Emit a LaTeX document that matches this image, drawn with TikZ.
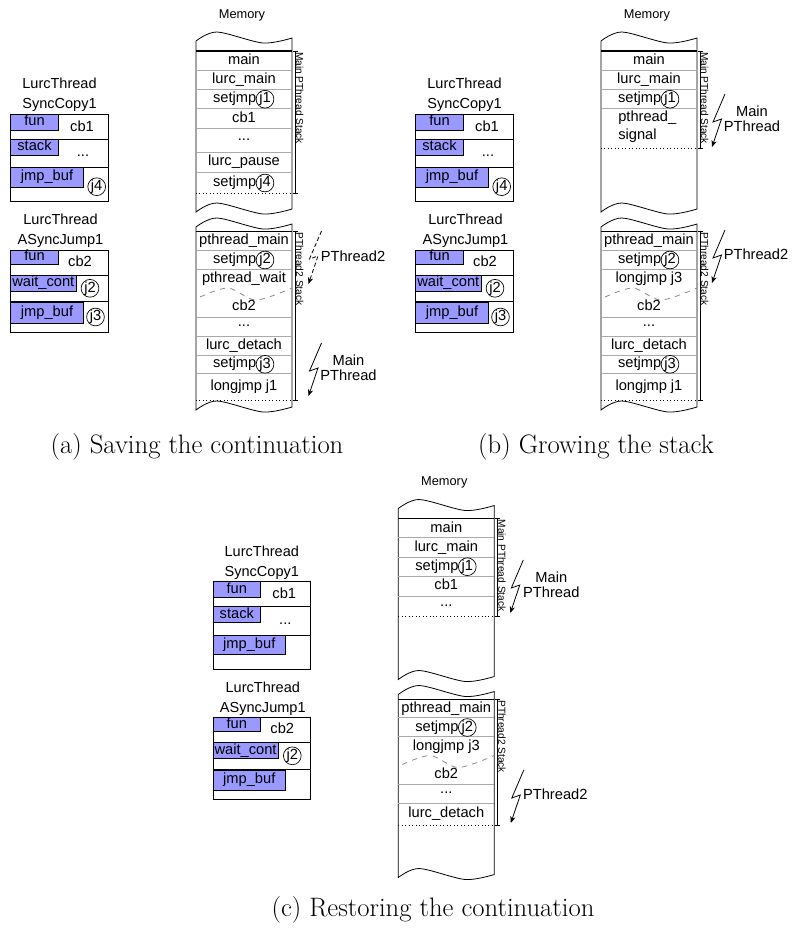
\documentclass[tikz,border=0pt]{standalone}
\usepackage{fontspec}
\setsansfont{Liberation Sans}
\usetikzlibrary{arrows.meta}
\definecolor{fieldblue}{RGB}{153,153,255}
\definecolor{rowgray}{RGB}{170,170,170}
\definecolor{wavegray}{RGB}{140,140,140}

\tikzset{
  txt/.style={font=\sffamily\fontsize{11}{12.5}\selectfont, inner sep=0pt, text height=8pt, text depth=2.5pt},
  ttl/.style={font=\sffamily\fontsize{10.9}{15}\selectfont, inner sep=0pt, align=center},
  memttl/.style={font=\sffamily\fontsize{9.6}{11}\selectfont, inner sep=0pt},
  stacklbl/.style={font=\sffamily\fontsize{7.6}{9}\selectfont, inner sep=0.6pt, rotate=-90, anchor=south west},
  jcirc/.style={circle, draw, line width=0.5pt, inner sep=0pt, minimum size=12pt, font=\sffamily\fontsize{11}{12}\selectfont},
  field/.style={draw, line width=0.6pt, fill=fieldblue},
  outline/.style={draw, line width=0.6pt},
  rowline/.style={draw=rowgray, line width=0.6pt},
  topline/.style={draw=black, line width=0.9pt},
  endline/.style={draw=black, line width=0.6pt, dotted},
  bolt/.style={line width=0.6pt, -{Stealth[length=5pt,width=4pt]}},
  tornline/.style={draw=wavegray, dash pattern=on 4pt off 4pt, line width=0.6pt},
  captxt/.style={font=\fontsize{20}{23}\selectfont, inner sep=0pt},
  thr/.style={font=\sffamily\fontsize{11}{11.5}\selectfont, inner sep=0pt, align=center},
}

% LurcThread SyncCopy1 structure; #1 prefix, #2 extra code
\newcommand\SyncStruct[2]{%
  \node[ttl] (#1-sct) at (59.5,95) {LurcThread\\SyncCopy1};
  \draw[outline, fill=white] (10.7,114) rectangle (108.3,201.7);
  \draw[outline] (10.7,139.3) -- (108.3,139.3) (10.7,167.7) -- (108.3,167.7);
  \draw[field] (10.7,114) rectangle (58.3,130);
  \draw[field] (10.7,139.3) rectangle (58.3,155);
  \draw[field] (10.7,167.7) rectangle (83.3,187);
  \node[txt] (#1-scfun) at (34.5,122) {fun};
  \node[txt] (#1-scstack) at (34.5,147.2) {stack};
  \node[txt] (#1-scjb) at (47,177.3) {jmp\_buf};
  \node[txt] (#1-sccb) at (82,127.5) {cb1};
  \node[txt] (#1-scdots) at (83,153) {...};
  #2}

% LurcThread ASyncJump1 structure
\newcommand\AsyncStruct[2]{%
  \node[ttl] (#1-ajt) at (60.5,231) {LurcThread\\ASyncJump1};
  \draw[outline, fill=white] (10.7,250) rectangle (108.3,332.3);
  \draw[outline] (10.7,275) -- (108.3,275) (10.7,301.7) -- (108.3,301.7);
  \draw[field] (10.7,250) rectangle (58.3,264);
  \draw[field] (10.7,275) rectangle (76,291);
  \draw[field] (10.7,302.5) rectangle (83.3,323);
  \node[txt] (#1-ajfun) at (34.5,257) {fun};
  \node[txt] (#1-ajwc) at (43.3,283) {wait\_cont};
  \node[txt] (#1-ajjb) at (47,312.7) {jmp\_buf};
  \node[txt] (#1-ajcb) at (80,262.5) {cb2};
  \node[jcirc] (#1-ajj2) at (90,288.3) {j2};
  #2}

% torn memory blocks
\newcommand\MemBlocks[1]{%
  \node[memttl] (#1-mem) at (242,15) {Memory};
  \draw[outline, fill=white] plot[smooth] coordinates {(196,41) (217,32) (263,43) (292,38)} -- (292,209)
     -- plot[smooth] coordinates {(292,209) (263,214) (217,203) (196,212)} -- cycle;
  \draw[outline, fill=white] plot[smooth] coordinates {(196,227) (217,218) (263,229) (292,224)} -- (292,407)
     -- plot[smooth] coordinates {(292,407) (263,412) (217,401) (196,410)} -- cycle;}

% stack bracket: #1 x, #2 top, #3 bottom
\newcommand\StackBracket[3]{%
  \draw[outline] ({#1-2},#2) -- ({#1+3},#2) (#1,#2) -- (#1,#3) ({#1-2},#3) -- ({#1+3},#3);}

% setjmp with circled label: #1 name, #2 y, #3 label
\newcommand\SetJmp[3]{%
  \node[jcirc] (#1-c) at (265,#2) {#3};
  \node[txt, anchor=east] (#1) at (256.5,#2) {setjmp};}

% lightning arrow: #1 name, #2 x, #3 y, #4 style
\newcommand\Bolt[4]{%
  \coordinate (#1-t) at (#2,#3);
  \coordinate (#1-l) at ([shift={(-12,28)}]#1-t);
  \coordinate (#1-r) at ([shift={(-3.5,25)}]#1-t);
  \coordinate (#1-p) at ([shift={(-13,53)}]#1-t);
  \draw[bolt,#4] (#1-t) -- (#1-l) -- (#1-r) -- (#1-p);}

\begin{document}
\begin{tikzpicture}[x=0.75pt,y=-0.75pt]
\useasboundingbox[fill=white] (0,0) rectangle (792,929);

% ===================== panel (a) =====================
\begin{scope}
  \SyncStruct{a}{\node[jcirc] (a-scj4) at (96.7,186.7) {j4};}
  \AsyncStruct{a}{\node[jcirc] (a-ajj3) at (95.5,317) {j3};}
  \MemBlocks{a}
  % main pthread stack
  \draw[rowline] (196,70) -- (292,70) (196,89.5) -- (292,89.5) (196,108.5) -- (292,108.5)
                 (196,128.5) -- (292,128.5) (196,152) -- (292,152) (196,172.5) -- (292,172.5);
  \draw[topline] (196,51) -- (292,51);
  \draw[endline] (196,193.5) -- (292,193.5);
  \node[txt] (a-main) at (244,61) {main};
  \node[txt] (a-lmain) at (244,80) {lurc\_main};
  \SetJmp{a-sj1}{99.2}{j1}
  \node[txt] (a-cb1) at (244,118.5) {cb1};
  \node[txt] (a-dots1) at (244,136.5) {...};
  \node[txt] (a-pause) at (244,162) {lurc\_pause};
  \SetJmp{a-sj4}{183}{j4}
  \StackBracket{295}{51}{193.5}
  \node[stacklbl] (a-mstk) at (295,51) {Main PThread Stack};
  % pthread2 stack
  \draw[rowline] (196,250) -- (292,250) (196,269) -- (292,269) (196,317.3) -- (292,317.3)
                 (196,336.7) -- (292,336.7) (196,355) -- (292,355) (196,373.3) -- (292,373.3);
  \draw[tornline] plot[smooth] coordinates {(200,297) (228,288) (256,300) (292,288)};
  \draw[topline] (196,231.7) -- (292,231.7);
  \draw[endline] (196,400) -- (292,400);
  \node[txt] (a-pmain) at (244,241) {pthread\_main};
  \SetJmp{a-sj2}{260}{j2}
  \node[txt] (a-pwait) at (244,279) {pthread\_wait};
  \node[txt] (a-cb2) at (244,307) {cb2};
  \node[txt] (a-dots2) at (244,323) {...};
  \node[txt] (a-detach) at (244,346) {lurc\_detach};
  \SetJmp{a-sj3}{364.3}{j3}
  \node[txt] (a-lj1) at (244,387) {longjmp j1};
  \StackBracket{295}{231.7}{400}
  \node[stacklbl] (a-pstk) at (295,231.7) {PThread2 Stack};
  % threads
  \Bolt{a-bp2}{321.5}{231}{dash pattern=on 3pt off 2pt}
  \node[txt, anchor=west] (a-p2) at (320.5,258) {PThread2};
  \Bolt{a-bmn}{321.5}{343}{}
  \node[thr] (a-mn) at (348.5,368) {Main\\PThread};
\end{scope}

% ===================== panel (b) =====================
\begin{scope}[shift={(405,0)}]
  \SyncStruct{b}{\node[jcirc] (b-scj4) at (96.7,186.7) {j4};}
  \AsyncStruct{b}{\node[jcirc] (b-ajj3) at (95.5,317) {j3};}
  \MemBlocks{b}
  \draw[rowline] (196,70) -- (292,70) (196,89.5) -- (292,89.5) (196,108.5) -- (292,108.5);
  \draw[topline] (196,51) -- (292,51);
  \draw[endline] (196,148.5) -- (292,148.5);
  \node[txt] (b-main) at (244,61) {main};
  \node[txt] (b-lmain) at (244,80) {lurc\_main};
  \SetJmp{b-sj1}{99.2}{j1}
  \node[txt, anchor=west] (b-ps1) at (213,118) {pthread\_};
  \node[txt, anchor=west] (b-ps2) at (213,136) {signal};
  \StackBracket{295}{51}{148.5}
  \node[stacklbl] (b-mstk) at (295,51) {Main PThread Stack};
  \draw[rowline] (196,250) -- (292,250) (196,269) -- (292,269) (196,317.3) -- (292,317.3)
                 (196,336.7) -- (292,336.7) (196,355) -- (292,355) (196,373.3) -- (292,373.3);
  \draw[tornline] plot[smooth] coordinates {(200,297) (228,288) (256,300) (292,288)};
  \draw[topline] (196,231.7) -- (292,231.7);
  \draw[endline] (196,400) -- (292,400);
  \node[txt] (b-pmain) at (244,241) {pthread\_main};
  \SetJmp{b-sj2}{260}{j2}
  \node[txt] (b-lj3) at (244,279) {longjmp j3};
  \node[txt] (b-cb2) at (244,307) {cb2};
  \node[txt] (b-dots2) at (244,323) {...};
  \node[txt] (b-detach) at (244,346) {lurc\_detach};
  \SetJmp{b-sj3}{364.3}{j3}
  \node[txt] (b-lj1) at (244,387) {longjmp j1};
  \StackBracket{295}{231.7}{400}
  \node[stacklbl] (b-pstk) at (295,231.7) {PThread2 Stack};
  \Bolt{b-bmn}{320}{94}{}
  \node[thr] (b-mn) at (347,119) {Main\\PThread};
  \Bolt{b-bp2}{320}{230}{}
  \node[txt, anchor=west] (b-p2) at (318.5,256) {PThread2};
\end{scope}

% ===================== panel (c) =====================
\begin{scope}[shift={(202.3,467.5)}]
  \SyncStruct{c}{}
  \AsyncStruct{c}{}
  \MemBlocks{c}
  \draw[rowline] (196,70) -- (292,70) (196,89.5) -- (292,89.5) (196,108.5) -- (292,108.5)
                 (196,128.5) -- (292,128.5);
  \draw[topline] (196,51) -- (292,51);
  \draw[endline] (196,149) -- (292,149);
  \node[txt] (c-main) at (244,61) {main};
  \node[txt] (c-lmain) at (244,80) {lurc\_main};
  \SetJmp{c-sj1}{99.2}{j1}
  \node[txt] (c-cb1) at (244,118.5) {cb1};
  \node[txt] (c-dots1) at (244,135) {...};
  \StackBracket{295}{51}{149}
  \node[stacklbl] (c-mstk) at (295,51) {Main PThread Stack};
  \draw[rowline] (196,250) -- (292,250) (196,269) -- (292,269) (196,317) -- (292,317)
                 (196,336) -- (292,336);
  \draw[tornline] plot[smooth] coordinates {(200,297) (228,288) (256,300) (292,288)};
  \draw[topline] (196,231.7) -- (292,231.7);
  \draw[endline] (196,357.5) -- (292,357.5);
  \node[txt] (c-pmain) at (244,241) {pthread\_main};
  \SetJmp{c-sj2}{260}{j2}
  \node[txt] (c-lj3) at (244,279) {longjmp j3};
  \node[txt] (c-cb2) at (244,307) {cb2};
  \node[txt] (c-dots2) at (244,322.5) {...};
  \node[txt] (c-detach) at (244,346.5) {lurc\_detach};
  \StackBracket{295}{231.7}{357.5}
  \node[stacklbl] (c-pstk) at (295,231.7) {PThread2 Stack};
  \Bolt{c-bmn}{321}{92.5}{}
  \node[thr] (c-mn) at (349,117) {Main\\PThread};
  \Bolt{c-bp2}{321.5}{302.5}{}
  \node[txt, anchor=west] (c-p2) at (320.5,328.5) {PThread2};
\end{scope}

% captions
\node[captxt] (capa) at (197,447) {(a) Saving the continuation};
\node[captxt] (capb) at (596,447) {(b) Growing the stack};
\node[captxt] (capc) at (433,910) {(c) Restoring the continuation};
\end{tikzpicture}
\end{document}
